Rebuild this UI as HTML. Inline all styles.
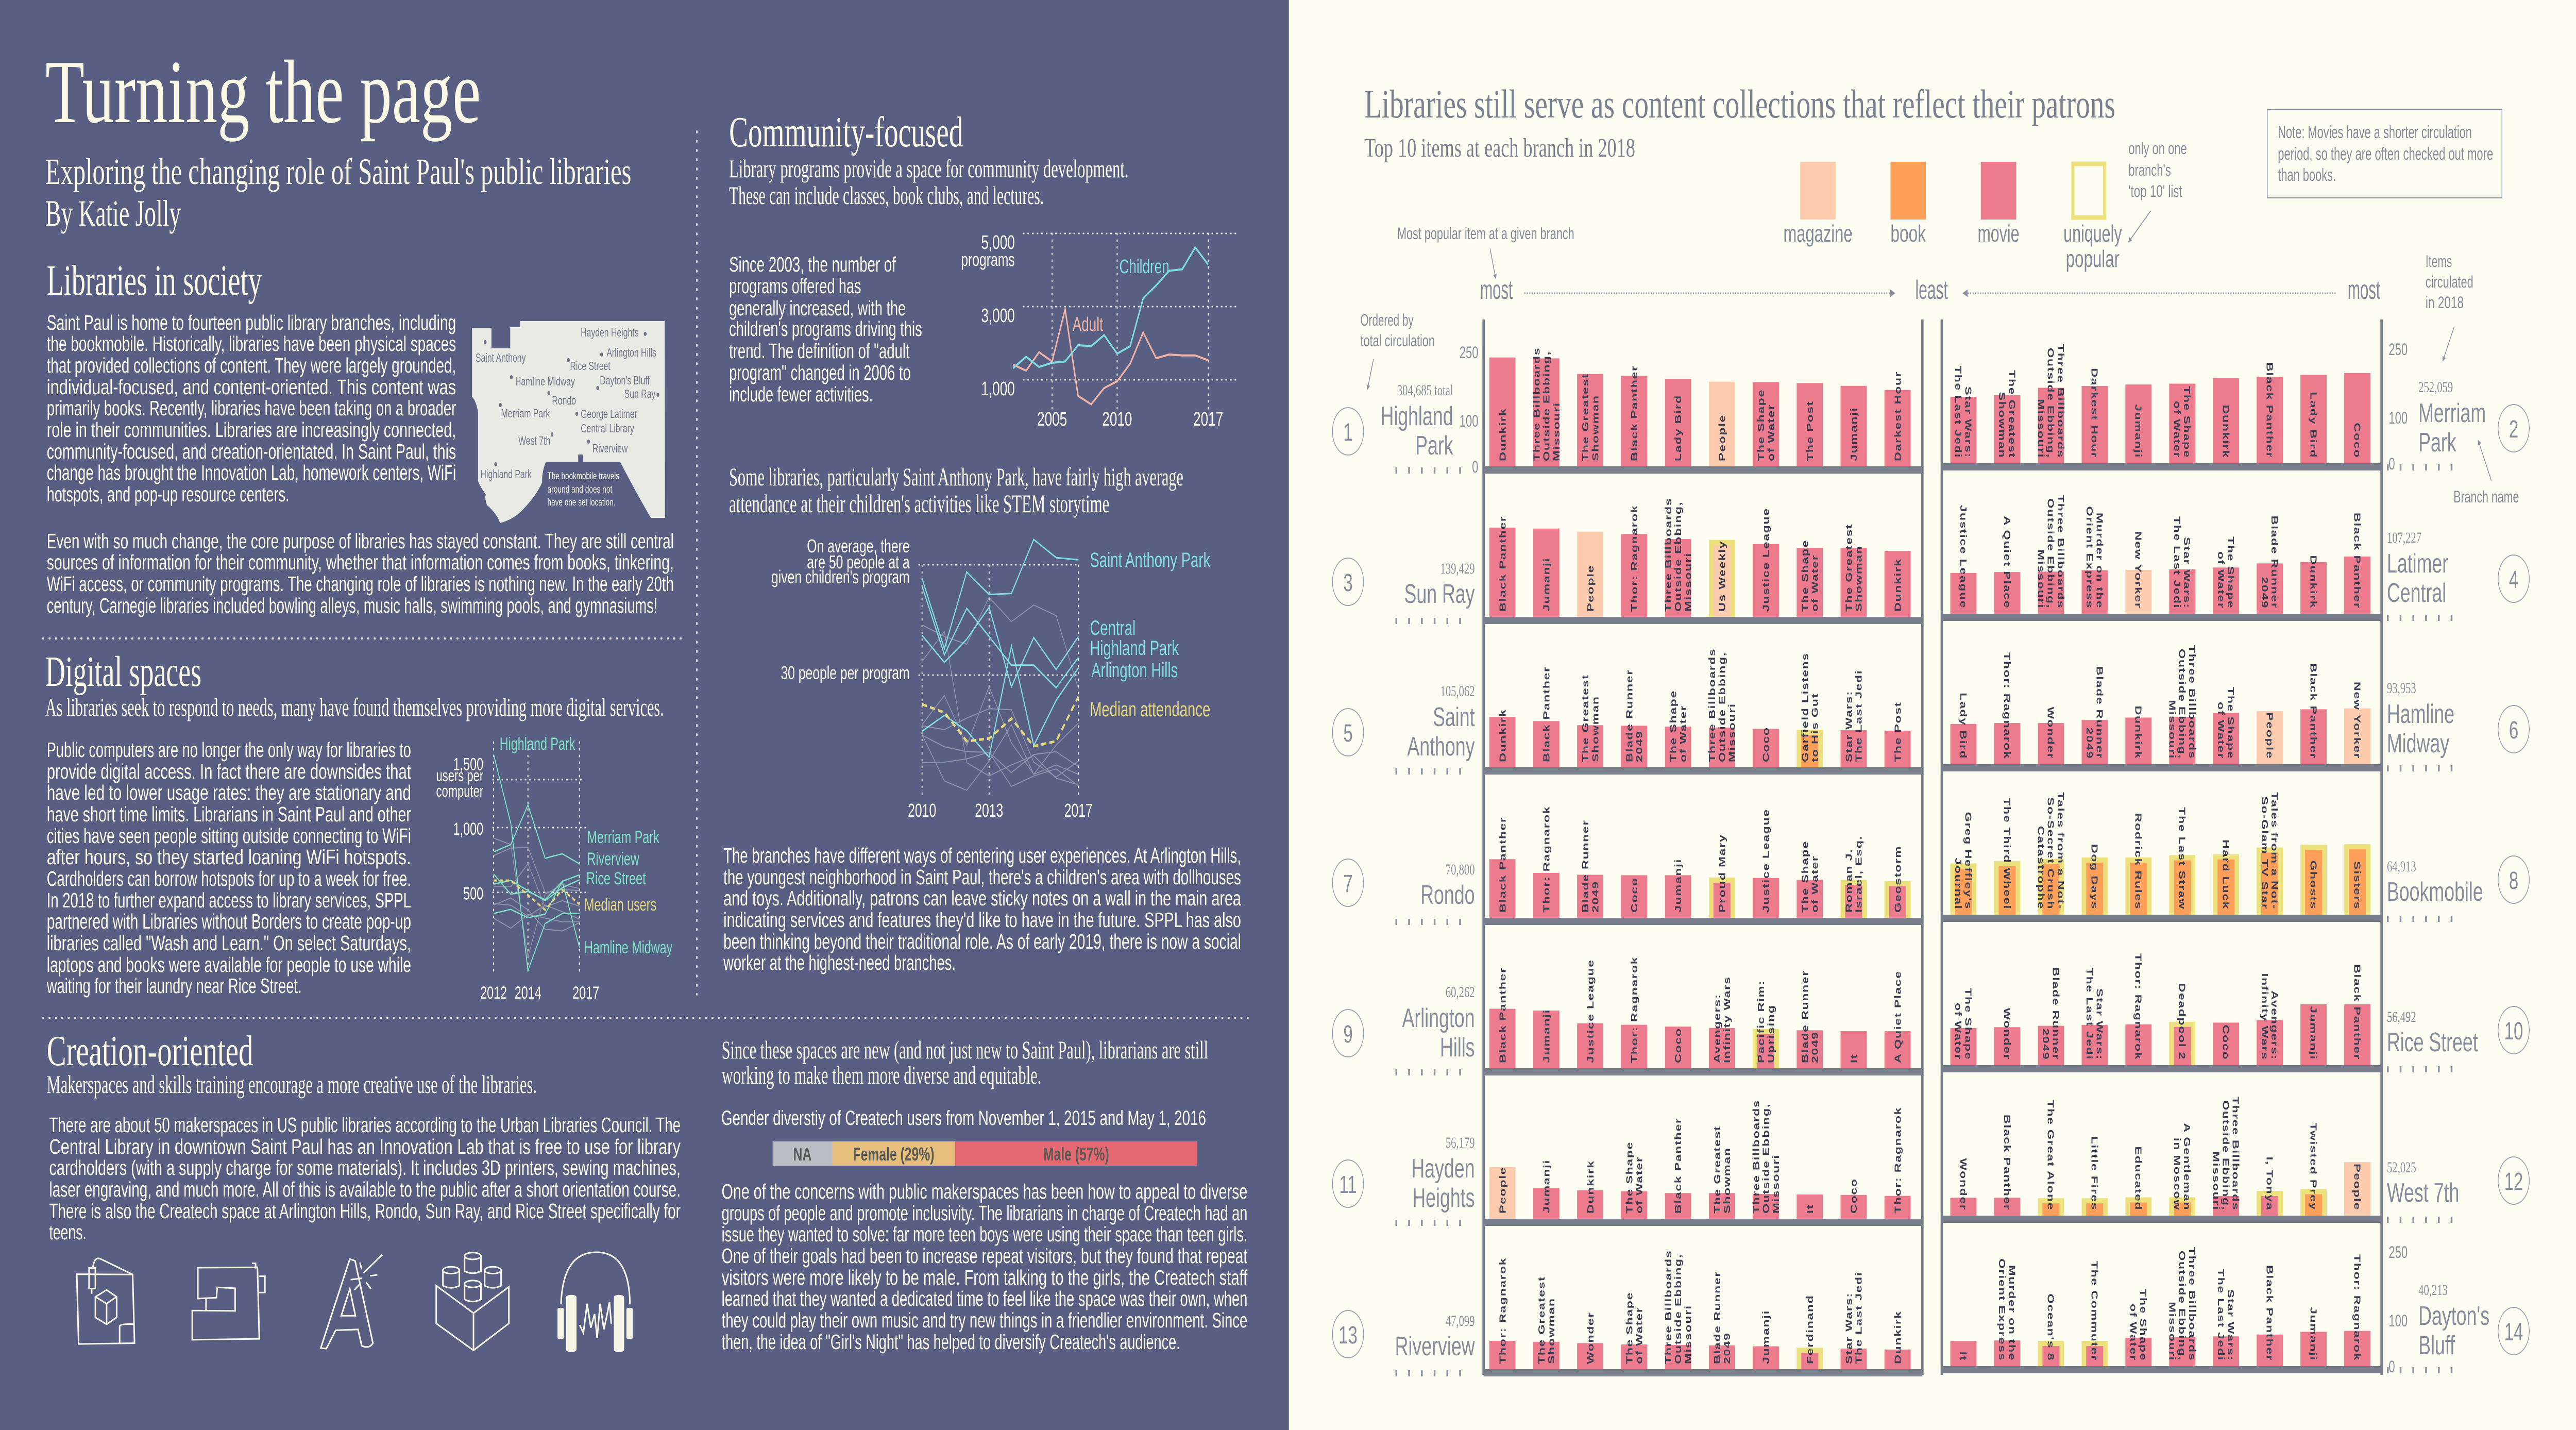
<!DOCTYPE html>
<html><head><meta charset="utf-8"><title>Turning the page</title>
<style>
html,body{margin:0;padding:0;background:#fdfdf2;width:100vw;height:100vh;overflow:hidden;}
svg{display:block;overflow:hidden;width:100vw;height:100vh;}
.sans{font-family:"Liberation Sans",sans-serif;}
.serif{font-family:"Liberation Serif",serif;}
.wt{fill:#fbf9e6;}
.gt{fill:#858a9b;}
</style></head>
<body>
<svg id="root" viewBox="0 0 7275 2775" preserveAspectRatio="none" xmlns="http://www.w3.org/2000/svg">
<defs>
<marker id="arr" viewBox="0 0 10 10" refX="8" refY="5" markerWidth="5" markerHeight="5" orient="auto"><path d="M0,0 L10,5 L0,10 z" fill="#8a8fa0"/></marker>
</defs>
<rect x="0" y="0" width="7275" height="2775" fill="#fdfdf2"/>
<rect x="0" y="0" width="3640" height="2775" fill="#585f82"/>

<g>
<text class="serif wt" x="128" y="237" font-size="175" textLength="1230" lengthAdjust="spacingAndGlyphs">Turning the page</text>
<text class="serif wt" x="128" y="357" font-size="72" textLength="1655" lengthAdjust="spacingAndGlyphs">Exploring the changing role of Saint Paul's public libraries</text>
<text class="serif wt" x="128" y="438" font-size="72" textLength="383" lengthAdjust="spacingAndGlyphs">By Katie Jolly</text>
</g>

<g>
<text class="serif wt" x="132" y="572" font-size="84" textLength="608" lengthAdjust="spacingAndGlyphs">Libraries in society</text>
<g class="sans wt" font-size="41">
<text x="132" y="640" textLength="1156" lengthAdjust="spacingAndGlyphs">Saint Paul is home to fourteen public library branches, including</text>
<text x="132" y="681" textLength="1156" lengthAdjust="spacingAndGlyphs">the bookmobile. Historically, libraries have been physical spaces</text>
<text x="132" y="723" textLength="1156" lengthAdjust="spacingAndGlyphs">that provided collections of content. They were largely grounded,</text>
<text x="132" y="765" textLength="1156" lengthAdjust="spacingAndGlyphs">individual-focused,  and  content-oriented.  This  content  was</text>
<text x="132" y="806" textLength="1156" lengthAdjust="spacingAndGlyphs">primarily books. Recently, libraries have been taking on a broader</text>
<text x="132" y="848" textLength="1156" lengthAdjust="spacingAndGlyphs">role in their communities. Libraries are increasingly connected,</text>
<text x="132" y="890" textLength="1156" lengthAdjust="spacingAndGlyphs">community-focused, and creation-orientated. In Saint Paul, this</text>
<text x="132" y="931" textLength="1156" lengthAdjust="spacingAndGlyphs">change has brought the Innovation Lab, homework centers, WiFi</text>
<text x="132" y="973" textLength="685" lengthAdjust="spacingAndGlyphs">hotspots, and pop-up resource centers.</text>
</g>
<g>
<path d="M1333,636 L1388,636 L1388,676 L1441,676 L1441,635 L1469,635 L1469,623 L1877,623 L1878,1005 L1838,1005 Q1800,960 1751,896 L1646,896 L1646,882 L1633,882 L1633,896 L1542,896 Q1530,915 1531,936 Q1515,962 1475,990 Q1450,1008 1412,1015 Q1405,998 1375,980 Q1368,965 1372,960 Q1352,940 1350,933 L1350,800 Q1345,778 1333,770 Z" fill="#e9eae4"/>
<g class="sans" font-size="23" fill="#70748a">
<text x="1640" y="653">Hayden Heights</text><circle cx="1822" cy="648" r="4"/>
<text x="1713" y="692">Arlington Hills</text><circle cx="1699" cy="688" r="4"/>
<text x="1343" y="702">Saint Anthony</text><circle cx="1370" cy="664" r="4"/>
<text x="1610" y="718">Rice Street</text><circle cx="1605" cy="699" r="4"/>
<text x="1455" y="748">Hamline Midway</text><circle cx="1444" cy="732" r="4"/>
<text x="1694" y="746">Dayton's Bluff</text><circle cx="1688" cy="753" r="4"/>
<text x="1763" y="772">Sun Ray</text><circle cx="1858" cy="766" r="4"/>
<text x="1559" y="785">Rondo</text><circle cx="1550" cy="763" r="4"/>
<text x="1415" y="810">Merriam Park</text><circle cx="1413" cy="786" r="4"/>
<text x="1640" y="811">George Latimer</text><circle cx="1629" cy="803" r="4"/>
<text x="1640" y="839">Central Library</text>
<text x="1464" y="863">West 7th</text><circle cx="1559" cy="843" r="4"/>
<text x="1673" y="878">Riverview</text><circle cx="1662" cy="857" r="4"/>
<text x="1357" y="928">Highland Park</text><circle cx="1400" cy="901" r="4"/>
</g>
<g class="sans wt" font-size="19">
<text x="1546" y="930" textLength="203" lengthAdjust="spacingAndGlyphs">The bookmobile travels</text>
<text x="1546" y="956" textLength="183" lengthAdjust="spacingAndGlyphs">around and does not</text>
<text x="1546" y="981" textLength="192" lengthAdjust="spacingAndGlyphs">have one set location.</text>
</g>
</g>
<g class="sans wt" font-size="41">
<text x="132" y="1064" textLength="1771" lengthAdjust="spacingAndGlyphs">Even with so much change, the core purpose of libraries has stayed constant. They are still central</text>
<text x="132" y="1105" textLength="1771" lengthAdjust="spacingAndGlyphs">sources of information for their community, whether that information comes from books, tinkering,</text>
<text x="132" y="1147" textLength="1771" lengthAdjust="spacingAndGlyphs">WiFi access, or community programs. The changing role of libraries is nothing new. In the early 20th</text>
<text x="132" y="1189" textLength="1725" lengthAdjust="spacingAndGlyphs">century, Carnegie libraries included bowling alleys, music halls, swimming pools, and gymnasiums!</text>
</g>
</g>

<g stroke="#e8e6d8" stroke-width="4" stroke-dasharray="2 16" stroke-linecap="round" fill="none">
<line x1="121" y1="1239" x2="1927" y2="1239"/>
<line x1="1968" y1="255" x2="1968" y2="1930"/>
<line x1="121" y1="1975" x2="3528" y2="1975"/>
</g>

<g>
<text class="serif wt" x="128" y="1331" font-size="84" textLength="441" lengthAdjust="spacingAndGlyphs">Digital spaces</text>
<text class="serif wt" x="128" y="1389" font-size="50" textLength="1747" lengthAdjust="spacingAndGlyphs">As libraries seek to respond to needs, many have found themselves providing more digital services.</text>
<g class="sans wt" font-size="41">
<text x="132" y="1469" textLength="1029" lengthAdjust="spacingAndGlyphs">Public computers are no longer the only way for libraries to</text>
<text x="132" y="1511" textLength="1029" lengthAdjust="spacingAndGlyphs">provide digital access. In fact there are downsides that</text>
<text x="132" y="1552" textLength="1029" lengthAdjust="spacingAndGlyphs">have led to lower usage rates: they are stationary and</text>
<text x="132" y="1594" textLength="1029" lengthAdjust="spacingAndGlyphs">have short time limits. Librarians in Saint Paul and other</text>
<text x="132" y="1636" textLength="1029" lengthAdjust="spacingAndGlyphs">cities have seen people sitting outside connecting to WiFi</text>
<text x="132" y="1677" textLength="1029" lengthAdjust="spacingAndGlyphs">after  hours,  so  they  started  loaning  WiFi  hotspots.</text>
<text x="132" y="1719" textLength="1029" lengthAdjust="spacingAndGlyphs">Cardholders can borrow hotspots for up to a week for free.</text>
<text x="132" y="1761" textLength="1029" lengthAdjust="spacingAndGlyphs">In 2018 to further expand access to library services, SPPL</text>
<text x="132" y="1802" textLength="1029" lengthAdjust="spacingAndGlyphs">partnered with Libraries without Borders to create pop-up</text>
<text x="132" y="1844" textLength="1029" lengthAdjust="spacingAndGlyphs">libraries called "Wash and Learn." On select Saturdays,</text>
<text x="132" y="1886" textLength="1029" lengthAdjust="spacingAndGlyphs">laptops and books were available for people to use while</text>
<text x="132" y="1927" textLength="720" lengthAdjust="spacingAndGlyphs">waiting for their laundry near Rice Street.</text>
</g>
<g id="digital-chart"></g>
</g>

<g>
<text class="serif wt" x="2059" y="284" font-size="84" textLength="661" lengthAdjust="spacingAndGlyphs">Community-focused</text>
<text class="serif wt" x="2059" y="344" font-size="50" textLength="1128" lengthAdjust="spacingAndGlyphs">Library programs provide a space for community development.</text>
<text class="serif wt" x="2059" y="396" font-size="50" textLength="889" lengthAdjust="spacingAndGlyphs">These can include classes, book clubs, and lectures.</text>
<g class="sans wt" font-size="41">
<text x="2059" y="527" textLength="471" lengthAdjust="spacingAndGlyphs">Since 2003, the number of</text>
<text x="2059" y="569" textLength="373" lengthAdjust="spacingAndGlyphs">programs offered has</text>
<text x="2059" y="612" textLength="499" lengthAdjust="spacingAndGlyphs">generally increased, with the</text>
<text x="2059" y="652" textLength="545" lengthAdjust="spacingAndGlyphs">children's programs driving this</text>
<text x="2059" y="695" textLength="510" lengthAdjust="spacingAndGlyphs">trend. The definition of "adult</text>
<text x="2059" y="737" textLength="513" lengthAdjust="spacingAndGlyphs">program" changed in 2006 to</text>
<text x="2059" y="779" textLength="406" lengthAdjust="spacingAndGlyphs">include fewer activities.</text>
</g>
<g id="programs-chart"></g>
<text class="serif wt" x="2059" y="942" font-size="50" textLength="1283" lengthAdjust="spacingAndGlyphs">Some libraries, particularly Saint Anthony Park, have fairly high average</text>
<text class="serif wt" x="2059" y="994" font-size="50" textLength="1074" lengthAdjust="spacingAndGlyphs">attendance at their children's activities like STEM storytime</text>
<g id="attendance-chart"></g>
<g class="sans wt" font-size="41">
<text x="2043" y="1674" textLength="1462" lengthAdjust="spacingAndGlyphs">The branches have different ways of centering user experiences. At Arlington Hills,</text>
<text x="2043" y="1716" textLength="1462" lengthAdjust="spacingAndGlyphs">the youngest neighborhood in Saint Paul, there's a children's area with dollhouses</text>
<text x="2043" y="1757" textLength="1462" lengthAdjust="spacingAndGlyphs">and toys. Additionally, patrons can leave sticky notes on a wall in the main area</text>
<text x="2043" y="1799" textLength="1462" lengthAdjust="spacingAndGlyphs">indicating services and features they'd like to have in the future. SPPL has also</text>
<text x="2043" y="1841" textLength="1462" lengthAdjust="spacingAndGlyphs">been thinking beyond their traditional role. As of early 2019, there is now a social</text>
<text x="2043" y="1882" textLength="656" lengthAdjust="spacingAndGlyphs">worker at the highest-need branches.</text>
</g>
</g>

<g>
<text class="serif wt" x="132" y="2067" font-size="84" textLength="583" lengthAdjust="spacingAndGlyphs">Creation-oriented</text>
<text class="serif wt" x="132" y="2121" font-size="50" textLength="1384" lengthAdjust="spacingAndGlyphs">Makerspaces and skills training encourage a more creative use of the libraries.</text>
<g class="sans wt" font-size="41">
<text x="139" y="2197" textLength="1783" lengthAdjust="spacingAndGlyphs">There are about 50 makerspaces in US public libraries according to the Urban Libraries Council. The</text>
<text x="139" y="2239" textLength="1783" lengthAdjust="spacingAndGlyphs">Central  Library  in  downtown  Saint  Paul  has  an  Innovation  Lab  that  is  free  to  use  for  library</text>
<text x="139" y="2280" textLength="1783" lengthAdjust="spacingAndGlyphs">cardholders (with a supply charge for some materials). It includes 3D printers, sewing machines,</text>
<text x="139" y="2322" textLength="1783" lengthAdjust="spacingAndGlyphs">laser engraving, and much more. All of this is available to the public after a short orientation course.</text>
<text x="139" y="2364" textLength="1783" lengthAdjust="spacingAndGlyphs">There is also the Createch space at Arlington Hills, Rondo, Sun Ray, and Rice Street specifically for</text>
<text x="139" y="2405" textLength="105" lengthAdjust="spacingAndGlyphs">teens.</text>
</g>
<g transform="translate(180,2420) scale(1.052,0.333)" fill="none" stroke="#f7f5e6" stroke-width="3">
<g>
<path vector-effect="non-scaling-stroke" d="M35,158 L185,160 L190,560 L40,565 Z"/>
<path vector-effect="non-scaling-stroke" d="M115,250 L142,290 L142,410 L115,450 L85,410 L85,290 Z M85,290 L115,330 L142,290 M115,330 L115,450"/>
<path vector-effect="non-scaling-stroke" d="M150,565 L150,460 Q155,445 190,450"/>
<path vector-effect="non-scaling-stroke" d="M68,122 L85,122 L85,242 L68,242 Z M75,242 L75,272 M78,122 Q82,50 100,70 L185,160"/>
</g>
<g>
<path vector-effect="non-scaling-stroke" d="M360,120 L520,118 L525,535 L345,540 L345,370 L460,372 L460,240 L412,235 L410,295 L360,300 Z"/>
<path vector-effect="non-scaling-stroke" d="M505,95 L515,95 L515,125 M525,170 L540,170 L540,265 L525,265 M382,295 L382,370"/>
</g>
<g>
<path vector-effect="non-scaling-stroke" d="M690,588 L768,70 L782,80 L830,560 Q820,595 800,575 L790,480 L730,485 L705,592 Z M745,400 L768,245 L783,400 Z"/>
<path vector-effect="non-scaling-stroke" d="M805,150 L855,45 M770,190 L800,182 M822,168 L842,162 M795,90 L800,130 M780,250 L795,215 M812,205 L825,245"/>
</g>
<g>
<path vector-effect="non-scaling-stroke" d="M1000,225 L1100,385 L1195,232 L1195,445 L1100,602 L1000,445 Z M1100,385 L1100,602"/>
<path vector-effect="non-scaling-stroke" d="M1076,52 L1076,140 Q1098,165 1120,140 L1120,52 M1018,135 L1018,225 Q1040,250 1062,225 L1062,135 M1130,135 L1130,225 Q1152,250 1174,225 L1174,135 M1076,215 L1076,305 Q1098,330 1120,305 L1120,215"/>
<ellipse vector-effect="non-scaling-stroke" cx="1098" cy="52" rx="22" ry="20"/><ellipse vector-effect="non-scaling-stroke" cx="1040" cy="135" rx="22" ry="20"/><ellipse vector-effect="non-scaling-stroke" cx="1152" cy="135" rx="22" ry="20"/><ellipse vector-effect="non-scaling-stroke" cx="1098" cy="215" rx="22" ry="20"/>
</g>
<g>
<path vector-effect="non-scaling-stroke" d="M1335,330 Q1340,30 1430,30 Q1518,30 1520,330"/>
<rect x="1350" y="280" width="25" height="330" rx="12" fill="#f7f5e6"/><rect x="1478" y="280" width="25" height="330" rx="12" fill="#f7f5e6"/>
<rect x="1327" y="355" width="14" height="180" rx="7" fill="#f7f5e6"/><rect x="1512" y="355" width="14" height="180" rx="7" fill="#f7f5e6"/>
<path vector-effect="non-scaling-stroke" d="M1385,455 L1395,500 L1405,330 L1415,470 L1425,390 L1432,530 L1440,330 L1450,480 L1458,400 L1465,320 L1470,450"/>
</g>
</g>
</g>

<g>
<text class="serif wt" x="2038" y="2054" font-size="50" textLength="1374" lengthAdjust="spacingAndGlyphs">Since these spaces are new (and not just new to Saint Paul), librarians are still</text>
<text class="serif wt" x="2038" y="2103" font-size="50" textLength="903" lengthAdjust="spacingAndGlyphs">working to make them more diverse and equitable.</text>
<text class="sans wt" x="2037" y="2183" font-size="40" textLength="1369" lengthAdjust="spacingAndGlyphs">Gender diverstiy of Createch users from November 1, 2015 and May 1, 2016</text>
<g id="gender-chart"></g>
<g class="sans wt" font-size="41">
<text x="2038" y="2326" textLength="1485" lengthAdjust="spacingAndGlyphs">One of the concerns with public makerspaces has been how to appeal to diverse</text>
<text x="2038" y="2368" textLength="1485" lengthAdjust="spacingAndGlyphs">groups of people and promote inclusivity. The librarians in charge of Createch had an</text>
<text x="2038" y="2409" textLength="1485" lengthAdjust="spacingAndGlyphs">issue they wanted to solve: far more teen boys were using their space than teen girls.</text>
<text x="2038" y="2451" textLength="1485" lengthAdjust="spacingAndGlyphs">One of their goals had been to increase repeat visitors, but they found that repeat</text>
<text x="2038" y="2493" textLength="1485" lengthAdjust="spacingAndGlyphs">visitors were more likely to be male. From talking to the girls, the Createch staff</text>
<text x="2038" y="2534" textLength="1485" lengthAdjust="spacingAndGlyphs">learned that they wanted a dedicated time to feel like the space was their own, when</text>
<text x="2038" y="2576" textLength="1485" lengthAdjust="spacingAndGlyphs">they could play their own music and try new things in a friendlier environment. Since</text>
<text x="2038" y="2618" textLength="1295" lengthAdjust="spacingAndGlyphs">then, the idea of "Girl's Night" has helped to diversify Createch's audience.</text>
</g>
</g>

<g>
<text class="serif" fill="#7b8090" x="3853" y="228" font-size="78" textLength="2121" lengthAdjust="spacingAndGlyphs">Libraries still serve as content collections that reflect their patrons</text>
<text class="serif" fill="#7b8090" x="3853" y="304" font-size="52" textLength="765" lengthAdjust="spacingAndGlyphs">Top 10 items at each branch in 2018</text>
<rect x="6403" y="213" width="663" height="171" fill="none" stroke="#8a8fa0" stroke-width="2"/>
<g class="sans gt" font-size="34">
<text x="6433" y="268" textLength="548" lengthAdjust="spacingAndGlyphs">Note: Movies have a shorter circulation</text>
<text x="6433" y="310" textLength="608" lengthAdjust="spacingAndGlyphs">period, so they are often checked out more</text>
<text x="6433" y="351" textLength="164" lengthAdjust="spacingAndGlyphs">than books.</text>
</g>
<g>
<rect x="5084" y="314" width="100" height="112" fill="#fdcbad"/>
<rect x="5339" y="314" width="100" height="112" fill="#fea05a"/>
<rect x="5594" y="314" width="100" height="112" fill="#ec7c8d"/>
<rect x="5854" y="318" width="90" height="104" fill="none" stroke="#ede17e" stroke-width="9"/>
<g class="sans gt" font-size="46" text-anchor="middle">
<text x="5134" y="469" textLength="195" lengthAdjust="spacingAndGlyphs">magazine</text>
<text x="5389" y="469" textLength="100" lengthAdjust="spacingAndGlyphs">book</text>
<text x="5644" y="469" textLength="118" lengthAdjust="spacingAndGlyphs">movie</text>
<text x="5910" y="469" textLength="165" lengthAdjust="spacingAndGlyphs">uniquely</text>
<text x="5910" y="518" textLength="152" lengthAdjust="spacingAndGlyphs">popular</text>
</g>
<g class="sans gt" font-size="32">
<text x="6011" y="299" textLength="165" lengthAdjust="spacingAndGlyphs">only on one</text>
<text x="6011" y="341" textLength="120" lengthAdjust="spacingAndGlyphs">branch's</text>
<text x="6011" y="382" textLength="152" lengthAdjust="spacingAndGlyphs">'top 10' list</text>
</g>
<line x1="6074" y1="409" x2="6012" y2="469" stroke="#8a8fa0" stroke-width="2" marker-end="url(#arr)"/>
</g>
<g class="sans gt">
<text x="3946" y="464" font-size="32" textLength="500" lengthAdjust="spacingAndGlyphs">Most popular item at a given branch</text>
<line x1="4208" y1="482" x2="4224" y2="540" stroke="#8a8fa0" stroke-width="2" marker-end="url(#arr)"/>
<text x="4180" y="580" font-size="52" textLength="92" lengthAdjust="spacingAndGlyphs">most</text>
<line x1="4305" y1="569" x2="5350" y2="569" stroke="#8a8fa0" stroke-width="3" stroke-dasharray="3 4" marker-end="url(#arr)"/>
<text x="5409" y="580" font-size="52" textLength="92" lengthAdjust="spacingAndGlyphs">least</text>
<line x1="6596" y1="569" x2="5545" y2="569" stroke="#8a8fa0" stroke-width="3" stroke-dasharray="3 4" marker-end="url(#arr)"/>
<text x="6630" y="580" font-size="52" textLength="92" lengthAdjust="spacingAndGlyphs">most</text>
<text x="6850" y="518" font-size="32" textLength="75" lengthAdjust="spacingAndGlyphs">Items</text>
<text x="6850" y="558" font-size="32" textLength="135" lengthAdjust="spacingAndGlyphs">circulated</text>
<text x="6850" y="598" font-size="32" textLength="108" lengthAdjust="spacingAndGlyphs">in 2018</text>
<line x1="6931" y1="634" x2="6899" y2="700" stroke="#8a8fa0" stroke-width="2" marker-end="url(#arr)"/>
<text x="3842" y="632" font-size="32" textLength="150" lengthAdjust="spacingAndGlyphs">Ordered by</text>
<text x="3842" y="672" font-size="32" textLength="210" lengthAdjust="spacingAndGlyphs">total circulation</text>
<line x1="3879" y1="697" x2="3862" y2="755" stroke="#8a8fa0" stroke-width="2" marker-end="url(#arr)"/>
<text x="6929" y="975" font-size="32" textLength="185" lengthAdjust="spacingAndGlyphs">Branch name</text>
<line x1="7036" y1="933" x2="6999" y2="855" stroke="#8a8fa0" stroke-width="2" marker-end="url(#arr)"/>
</g>
<g id="shelves"></g>

<script>
const branchNames = ["Highland|Park","Merriam|Park","Sun Ray","Latimer|Central","Saint|Anthony","Hamline|Midway","Rondo","Bookmobile","Arlington|Hills","Rice Street","Hayden|Heights","West 7th","Riverview","Dayton's|Bluff"];
const branchTotals = ["304,685 total","252,059","139,429","107,227","105,062","93,953","70,800","64,913","60,262","56,492","56,179","52,025","47,099","40,213"];
const titlesByBranch = [
 ["Dunkirk","Three Billboards|Outside Ebbing,|Missouri","The Greatest|Showman","Black Panther","Lady Bird","People","The Shape|of Water","The Post","Jumanji","Darkest Hour"],
 ["Star Wars:|The Last Jedi","The Greatest|Showman","Three Billboards|Outside Ebbing,|Missouri","Darkest Hour","Jumanji","The Shape|of Water","Dunkirk","Black Panther","Lady Bird","Coco"],
 ["Black Panther","Jumanji","People","Thor: Ragnarok","Three Billboards|Outside Ebbing,|Missouri","Us Weekly","Justice League","The Shape|of Water","The Greatest|Showman","Dunkirk"],
 ["Justice League","A Quiet Place","Three Billboards|Outside Ebbing,|Missouri","Murder on the|Orient Express","New Yorker","Star Wars:|The Last Jedi","The Shape|of Water","Blade Runner|2049","Dunkirk","Black Panther"],
 ["Dunkirk","Black Panther","The Greatest|Showman","Blade Runner|2049","The Shape|of Water","Three Billboards|Outside Ebbing,|Missouri","Coco","Garfield Listens|to His Gut","Star Wars:|The Last Jedi","The Post"],
 ["Lady Bird","Thor: Ragnarok","Wonder","Blade Runner|2049","Dunkirk","Three Billboards|Outside Ebbing,|Missouri","The Shape|of Water","People","Black Panther","New Yorker"],
 ["Black Panther","Thor: Ragnarok","Blade Runner|2049","Coco","Jumanji","Proud Mary","Justice League","The Shape|of Water","Roman J.|Israel, Esq.","Geostorm"],
 ["Greg Heffley's|Journal","The Third Wheel","Tales from a Not-|So-Secret Crush|Catastrophe","Dog Days","Rodrick Rules","The Last Straw","Hard Luck","Tales from a Not-|So-Glam TV Star","Ghosts","Sisters"],
 ["Black Panther","Jumanji","Justice League","Thor: Ragnarok","Coco","Avengers:|Infinity Wars","Pacific Rim:|Uprising","Blade Runner|2049","It","A Quiet Place"],
 ["The Shape|of Water","Wonder","Blade Runner|2049","Star Wars:|The Last Jedi","Thor: Ragnarok","Deadpool 2","Coco","Avengers:|Infinity Wars","Jumanji","Black Panther"],
 ["People","Jumanji","Dunkirk","The Shape|of Water","Black Panther","The Greatest|Showman","Three Billboards|Outside Ebbing,|Missouri","It","Coco","Thor: Ragnarok"],
 ["Wonder","Black Panther","The Great Alone","Little Fires","Educated","A Gentleman|in Moscow","Three Billboards|Outside Ebbing,|Missouri","I, Tonya","Twisted Prey","People"],
 ["Thor: Ragnarok","The Greatest|Showman","Wonder","The Shape|of Water","Three Billboards|Outside Ebbing,|Missouri","Blade Runner|2049","Jumanji","Ferdinand","Star Wars:|The Last Jedi","Dunkirk"],
 ["It","Murder on the|Orient Express","Ocean's 8","The Commuter","The Shape|of Water","Three Billboards|Outside Ebbing,|Missouri","Star Wars:|The Last Jedi","Black Panther","Jumanji","Thor: Ragnarok"]
];
const valuesByBranch = [
 [238,236,202,198,191,185,184,182,176,167],
 [145,149,165,169,172,174,186,189,193,197],
 [195,193,186,181,170,168,159,151,150,144],
 [89,91,92,95,96,97,101,110,113,125],
 [110,101,92,91,89,87,84,82,81,80],
 [88,90,90,97,102,103,112,116,120,122],
 [128,98,94,93,93,88,87,83,83,80],
 [112,117,122,125,125,130,132,147,153,154],
 [130,126,98,95,91,88,86,83,81,81],
 [81,83,86,88,89,95,93,98,133,133],
 [113,67,62,60,56,56,54,53,52,50],
 [39,39,38,38,40,40,43,54,58,117],
 [62,60,57,54,53,52,50,47,45,43],
 [55,56,55,55,62,63,65,69,75,77]
];
const typesByBranch = [
 ["v","v","v","v","v","m","v","v","v","v"],
 ["v","v","v","v","v","v","v","v","v","v"],
 ["v","v","m","v","v","mu","v","v","v","v"],
 ["v","v","v","v","m","v","v","v","v","v"],
 ["v","v","v","v","v","v","v","bu","v","v"],
 ["v","v","v","v","v","v","v","m","v","m"],
 ["v","v","v","v","v","vu","v","v","vu","vu"],
 ["bu","bu","bu","bu","bu","bu","bu","bu","bu","bu"],
 ["v","v","v","v","v","v","vu","v","v","v"],
 ["v","v","v","v","v","vu","v","v","v","v"],
 ["m","v","v","v","v","v","v","v","v","v"],
 ["v","v","bu","bu","bu","bu","v","vu","bu","m"],
 ["v","v","v","v","v","v","v","vu","v","v"],
 ["v","v","vu","vu","v","v","v","v","v","v"]
];
const axisTicks = [250,100,0];

const programYears = [2002,2003,2004,2005,2006,2007,2008,2009,2010,2011,2012,2013,2014,2015,2016,2017];
const childrenPrograms = [1315,1630,1350,1465,1500,1945,1920,2220,1715,1920,3225,3580,3980,4020,4620,4145];
const adultPrograms = [1415,1250,1755,1500,2925,560,330,775,960,1440,2295,1590,1690,1665,1665,1530];
const programTicks = [5000,3000,1000];
const programYearTicks = [2005,2010,2017];

const attendYears = [2010,2011,2012,2013,2014,2015,2016,2017];
const attendSaintAnthony = [47.5,34.8,48.7,44.6,44.8,54.6,51.3,50.9];
const attendCentral = [46.1,33.7,42.1,37.0,31.8,31.8,27.7,33.2];
const attendHighland = [37.2,32.3,36.5,42.3,27.9,36.8,31.0,37.0];
const attendArlington = [19.8,22.7,19.9,15.1,35.3,17.2,25.4,31.3];
const attendMedian = [24.7,23.2,18.0,18.5,22.1,17.1,18.0,26.1];
const attendOther1 = [39.1,37.0,35.6,44.1,39.7,42.7,40.8,27.5];
const attendOther2 = [32.5,37.9,14.1,11.7,13.7,15.4,11.3,10.1];
const attendOther3 = [14.1,14.2,14.8,16.0,12.3,15.6,16.1,13.4];
const attendOther4 = [19.2,10.8,9.1,14.4,21.0,12.0,17.3,21.3];
const attendOther5 = [21.0,26.3,17.2,27.9,17.7,12.0,13.7,12.0];
const attendOther6 = [20.8,20.1,22.2,23.9,23.7,14.2,11.5,14.4];
const attendOther7 = [19.1,17.0,16.1,16.0,9.8,11.7,13.0,9.9];
const attendYearTicks = [2010,2013,2017];

const digitalYears = [2012,2013,2014,2015,2016,2017];
const usersHighland = [1565,1033,-104,259,337,337];
const usersMerriam = [812,869,1175,763,798,720];
const usersRiverview = [642,486,507,443,585,635];
const usersRice = [564,592,514,436,536,597];
const usersHamline = [337,369,304,332,585,74];
const usersMedian = [592,592,479,365,521,408];
const usersOther1 = [919,869,3,486,560,530];
const usersOther2 = [784,841,848,500,521,514];
const usersOther3 = [401,457,365,216,202,266];
const usersOther4 = [301,223,330,301,273,273];
const usersOther5 = [543,543,720,386,436,393];
const usersOther6 = [414,401,316,401,351,294];
const digitalTicks = [1500,1000,500];
const digitalYearTicks = [2012,2014,2017];

const genderLabels = ["NA","Female (29%)","Male (57%)"];
const genderShares = [14,29,57];

const NS = "http://www.w3.org/2000/svg";
function el(tag, parent, attrs){
  const e = document.createElementNS(NS, tag);
  for (const k in attrs) e.setAttribute(k, attrs[k]);
  parent.appendChild(e);
  return e;
}
const typeColor = {v:"#ec7c8d", b:"#fea05a", m:"#fdcbad"};

(function(){
  const g = document.getElementById("shelves");
  const shelfColor = "#7a7f8e";
  const leftX0 = 4190, leftX1 = 5429, rightX0 = 5484, rightX1 = 6726;
  const rowY = r => 905 + r * 292;
  const yScale = v => v * 0.888;
  [leftX0, leftX1, rightX0, rightX1].forEach(x => {
    const l = el("line", g, {x1:x, y1:620, x2:x, y2:2668, stroke:shelfColor, "stroke-width":7});
    
    
  });
  for (let i = 0; i < 14; i++){
    const row = Math.floor(i / 2);
    const isLeft = i % 2 === 0;
    const sy = isLeft ? rowY(row) : rowY(row) - 6;
    const bg = el("g", g, {});
    
    
    const shelf = el("rect", bg, {x: isLeft ? leftX0 : rightX0, y: sy, width: isLeft ? leftX1-leftX0 : rightX1-rightX0, height: 14, fill: shelfColor});
    
    
    const x0 = isLeft ? 4206 : 5508;
    const step = isLeft ? 124 : 123.6;
    const titles = titlesByBranch[i], vals = valuesByBranch[i], types = typesByBranch[i];
    for (let k = 0; k < vals.length; k++){
      const bx = x0 + k * step, bw = 74, h = yScale(vals[k]);
      const t = types[k], base = t[0], uniq = t.length > 1;
      if (uniq){
        const o = el("rect", bg, {x: bx, y: sy - h, width: bw, height: h, fill: "#ede17e"});
        
        
        const inn = el("rect", bg, {x: bx + 13, y: sy - h + 10, width: bw - 26, height: h - 10, fill: typeColor[base]});
        
        
      } else {
        const r = el("rect", bg, {x: bx, y: sy - h, width: bw, height: h, fill: typeColor[base]});
        
        
      }
      const lines = titles[k].split("|"), n = lines.length, L = 28, cx = bx + bw / 2;
      lines.forEach((ln, j) => {
        const off = (j - (n - 1) / 2) * L;
        const tx = isLeft ? cx + 9 + off : cx - 9 - off;
        const ty = sy - 10;
        const tt = el("text", bg, {transform: "translate(" + tx + "," + ty + ") rotate(" + (isLeft ? -90 : 90) + ")", "text-anchor": isLeft ? "start" : "end", "font-family": "Liberation Sans, sans-serif", "font-weight": "bold", "font-size": 25, "letter-spacing": 1.5, fill: "#3b3e52"});
        tt.textContent = ln;
        
        
      });
    }
    const nameLines = branchNames[i].split("|");
    const two = nameLines.length > 1;
    let nx, anchor;
    if (isLeft){ nx = row === 0 ? 4104 : 4165; anchor = "end"; }
    else { nx = (i === 1 || i === 13) ? 6830 : 6741; anchor = "start"; }
    nameLines.forEach((ln, j) => {
      const ny = two ? sy - 80 + j * 57 : sy - 27;
      const nt = el("text", bg, {x: nx, y: ny, "text-anchor": anchor, "font-family": "Liberation Sans, sans-serif", "font-size": 52, fill: "#878c9c"});
      nt.textContent = ln;
      
      
    });
    const tot = el("text", bg, {x: nx, y: two ? sy - 138 : sy - 84, "text-anchor": anchor, "font-family": "Liberation Serif, serif", "font-size": 30, fill: "#878c9c"});
    tot.textContent = branchTotals[i];
    
    
    const dx0 = isLeft ? 3941 : 6741;
    for (let d = 0; d < 6; d++){
      const dot = el("rect", bg, {x: dx0 + d * 36, y: sy + 2, width: 5, height: 12, fill: "#8a8fa0"});
      
      
    }
    const ccx = isLeft ? 3807 : 7099;
    const c = el("ellipse", bg, {cx: ccx, cy: sy - 68, rx: 44, ry: 46, fill: "none", stroke: "#9aa0ae", "stroke-width": 2});
    
    
    const cn = el("text", bg, {x: ccx, y: sy - 50, "text-anchor": "middle", "font-family": "Liberation Sans, sans-serif", "font-size": 48, fill: "#878c9c"});
    cn.textContent = String(i + 1);
    
    
    if (i === 0 || i === 1 || i === 13){
      axisTicks.forEach(v => {
        const at = el("text", bg, {x: isLeft ? 4175 : 6746, y: sy - yScale(v) + 12, "text-anchor": isLeft ? "end" : "start", "font-family": "Liberation Sans, sans-serif", "font-size": 32, fill: "#878c9c"});
        at.textContent = String(v);
        
        
      });
    }
  }
})();

function drawLine(g, xs, ys, xf, yf, color, width, dash, name){
  const pts = xs.map((x, i) => xf(x) + "," + yf(ys[i])).join(" ");
  const p = el("polyline", g, {points: pts, fill: "none", stroke: color, "stroke-width": width});
  if (dash) p.setAttribute("stroke-dasharray", dash);
  
  
  return p;
}
function txt(g, x, y, s, size, color, anchor, name){
  const t = el("text", g, {x: x, y: y, "font-family": "Liberation Sans, sans-serif", "font-size": size, fill: color, "text-anchor": anchor || "start"});
  t.textContent = s;
  
  
  return t;
}
const dotted = {stroke: "#e8e6d8", "stroke-width": 3, "stroke-dasharray": "2 11", "stroke-linecap": "round"};

(function(){
  const g = document.getElementById("programs-chart");
  const xf = yr => 2861 + (yr - 2002) * 36.75;
  const yf = v => 737 - (v - 1000) * 0.071;
  programTicks.forEach(v => {
    const l = el("line", g, Object.assign({x1: 2890, y1: yf(v), x2: 3493, y2: yf(v)}, dotted));
    
    
    txt(g, 2866, yf(v) + 30, v.toLocaleString("en-US"), 38, "#fbf9e6", "end", "y-axis-tick");
  });
  txt(g, 2866, 516, "programs", 36, "#fbf9e6", "end", "y-axis-title");
  programYearTicks.forEach(yr => {
    const l = el("line", g, Object.assign({x1: xf(yr), y1: 453, x2: xf(yr), y2: 795}, dotted));
    
    
    txt(g, xf(yr), 826, String(yr), 38, "#fbf9e6", "middle", "x-axis-tick");
  });
  drawLine(g, programYears, adultPrograms, xf, yf, "#f2b3a4", 4, null, "adult-programs-line");
  drawLine(g, programYears, childrenPrograms, xf, yf, "#80dde3", 4, null, "children-programs-line");
  txt(g, 3161, 530, "Children", 38, "#80dde3", "start", "children-label");
  txt(g, 3029, 642, "Adult", 38, "#f2b3a4", "start", "adult-label");
})();

(function(){
  const g = document.getElementById("attendance-chart");
  const xf = yr => 2604 + (yr - 2010) * 63.1;
  const yf = v => 1096 + (50 - v) * 10.7;
  [50, 30].forEach(v => {
    const l = el("line", g, Object.assign({x1: 2595, y1: yf(v), x2: 3050, y2: yf(v)}, dotted));
    
    
  });
  attendYearTicks.forEach(yr => {
    const l = el("line", g, Object.assign({x1: xf(yr), y1: 1097, x2: xf(yr), y2: 1545}, dotted));
    
    
    txt(g, xf(yr), 1585, String(yr), 36, "#fbf9e6", "middle", "x-axis-tick");
  });
  [attendOther1, attendOther2, attendOther3, attendOther4, attendOther5, attendOther6, attendOther7].forEach(s => drawLine(g, attendYears, s, xf, yf, "#8e93ab", 2, null, "other-branch-line"));
  drawLine(g, attendYears, attendArlington, xf, yf, "#80dde3", 3, null, "arlington-hills-line");
  drawLine(g, attendYears, attendHighland, xf, yf, "#80dde3", 3, null, "highland-park-line");
  drawLine(g, attendYears, attendCentral, xf, yf, "#80dde3", 3, null, "central-line");
  drawLine(g, attendYears, attendSaintAnthony, xf, yf, "#80dde3", 3, null, "saint-anthony-park-line");
  drawLine(g, attendYears, attendMedian, xf, yf, "#e6d77a", 5, "14 9", "median-attendance-line");
  txt(g, 2569, 1072, "On average, there", 36, "#fbf9e6", "end", "annotation");
  txt(g, 2569, 1103, "are 50 people at a", 36, "#fbf9e6", "end", "annotation");
  txt(g, 2569, 1132, "given children's program", 36, "#fbf9e6", "end", "annotation");
  txt(g, 2569, 1318, "30 people per program", 36, "#fbf9e6", "end", "annotation");
  txt(g, 3078, 1100, "Saint Anthony Park", 40, "#80dde3", "start", "series-label");
  txt(g, 3078, 1232, "Central", 40, "#80dde3", "start", "series-label");
  txt(g, 3078, 1271, "Highland Park", 40, "#80dde3", "start", "series-label");
  txt(g, 3082, 1314, "Arlington Hills", 40, "#80dde3", "start", "series-label");
  txt(g, 3078, 1390, "Median attendance", 40, "#e6d77a", "start", "series-label");
})();

(function(){
  const g = document.getElementById("digital-chart");
  const xf = yr => 1394 + (yr - 2012) * 48.5;
  const yf = v => 1606 - (v - 1000) * 0.2514;
  [1000, 500].forEach(v => {
    const l = el("line", g, Object.assign({x1: 1392, y1: yf(v), x2: 1655, y2: yf(v)}, dotted));
    
    
  });
  const l0 = el("line", g, Object.assign({x1: 1392, y1: 1513, x2: 1645, y2: 1513}, dotted));
  
  
  digitalYearTicks.forEach(yr => {
    const l = el("line", g, Object.assign({x1: xf(yr), y1: 1440, x2: xf(yr), y2: 1895}, dotted));
    
    
    txt(g, xf(yr) + (yr === 2017 ? 18 : 0), 1938, String(yr), 34, "#fbf9e6", "middle", "x-axis-tick");
  });
  digitalTicks.forEach(v => txt(g, 1365, yf(v) + 14, v.toLocaleString("en-US"), 34, "#fbf9e6", "end", "y-axis-tick"));
  txt(g, 1365, 1516, "users per", 32, "#fbf9e6", "end", "y-axis-title");
  txt(g, 1365, 1546, "computer", 32, "#fbf9e6", "end", "y-axis-title");
  [usersOther1, usersOther2, usersOther3, usersOther4, usersOther5, usersOther6].forEach(s => drawLine(g, digitalYears, s, xf, yf, "#8e93ab", 2, null, "other-branch-line"));
  drawLine(g, digitalYears, usersHighland, xf, yf, "#7fe3c8", 2.5, null, "highland-park-line");
  drawLine(g, digitalYears, usersMerriam, xf, yf, "#7fe3c8", 2.5, null, "merriam-park-line");
  drawLine(g, digitalYears, usersRiverview, xf, yf, "#7fe3c8", 2.5, null, "riverview-line");
  drawLine(g, digitalYears, usersRice, xf, yf, "#7fe3c8", 2.5, null, "rice-street-line");
  drawLine(g, digitalYears, usersHamline, xf, yf, "#7fe3c8", 2.5, null, "hamline-midway-line");
  drawLine(g, digitalYears, usersMedian, xf, yf, "#e6d77a", 4, "10 7", "median-users-line");
  txt(g, 1411, 1455, "Highland Park", 34, "#7fe3c8", "start", "series-label");
  txt(g, 1658, 1636, "Merriam Park", 34, "#7fe3c8", "start", "series-label");
  txt(g, 1658, 1678, "Riverview", 34, "#7fe3c8", "start", "series-label");
  txt(g, 1656, 1716, "Rice Street", 34, "#7fe3c8", "start", "series-label");
  txt(g, 1650, 1767, "Median users", 34, "#e6d77a", "start", "series-label");
  txt(g, 1650, 1850, "Hamline Midway", 34, "#7fe3c8", "start", "series-label");
})();

(function(){
  const g = document.getElementById("gender-chart");
  const x0 = 2182, total = 1199, colors = ["#bcbec6", "#e6bf7c", "#e66873"];
  const sum = genderShares.reduce((a, b) => a + b, 0);
  let x = x0;
  genderShares.forEach((s, i) => {
    const w = s / sum * total;
    const r = el("rect", g, {x: x, y: 2215, width: w, height: 47, fill: colors[i]});
    
    
    const t = el("text", g, {x: x + w / 2, y: 2252, "text-anchor": "middle", "font-family": "Liberation Sans, sans-serif", "font-weight": "bold", "font-size": 36, fill: "#5a5a55"});
    t.textContent = genderLabels[i];
    
    
    x += w;
  });
})();
</script>
</svg>
</body></html>
